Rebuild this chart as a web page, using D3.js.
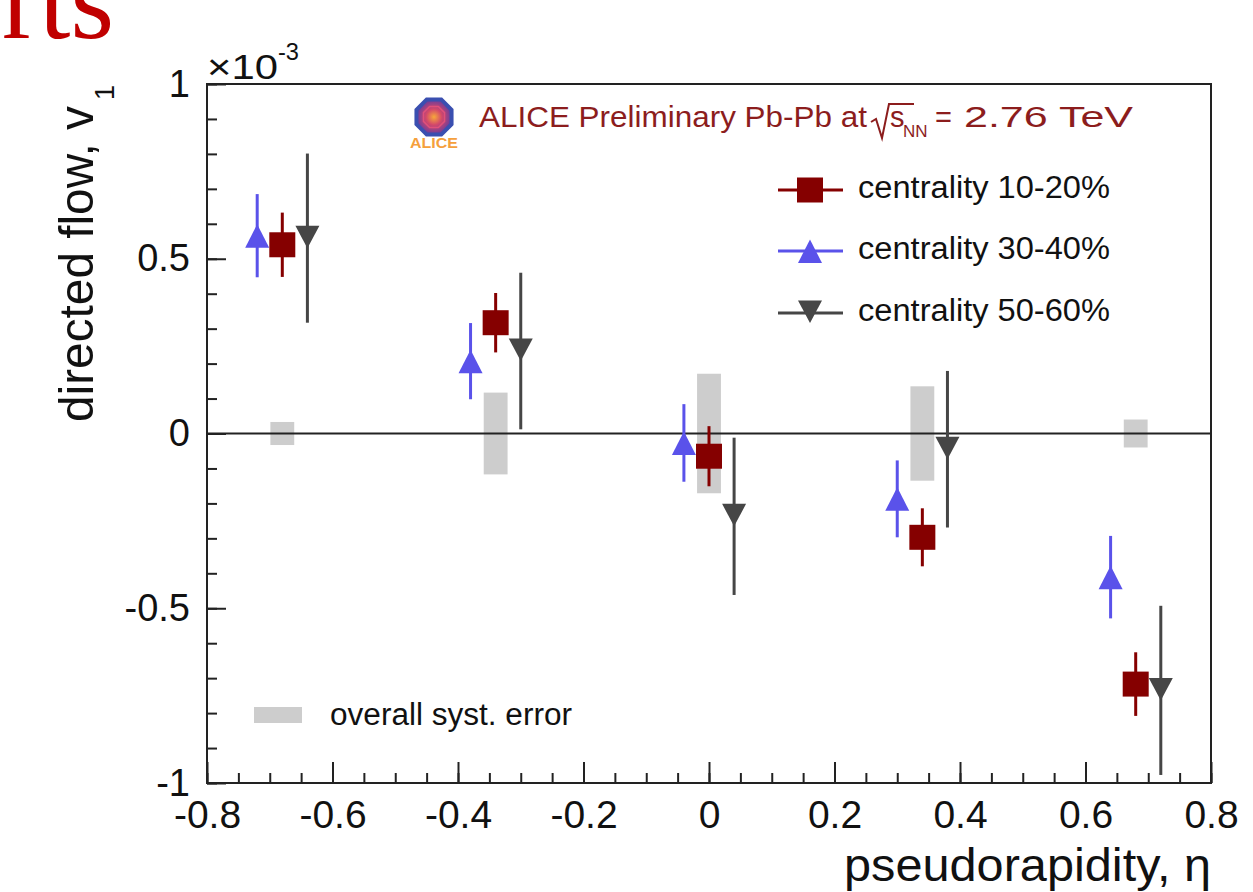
<!DOCTYPE html>
<html lang="en">
<head>
<meta charset="UTF-8">
<title>ALICE directed flow v1 vs pseudorapidity</title>
<script src="https://d3js.org/d3.v7.min.js"></script>
<style>
  body { margin: 0; background: #fff; }
  svg { display: block; font-family: "Liberation Sans", Arial, sans-serif; }
</style>
</head>
<body>
<svg id="chart" width="1253" height="892"></svg>
<script>
// values, v1 in units of 1e-3
const seriesNames = ["centrality 10-20%", "centrality 30-40%", "centrality 50-60%"];

const etaC1020 = [-0.68, -0.34, 0.00, 0.34, 0.68];
const v1C1020  = [0.540, 0.317, -0.065, -0.297, -0.717];
const errC1020 = [0.092, 0.085, 0.086, 0.083, 0.091];

const etaC3040 = [-0.72, -0.38, -0.04, 0.30, 0.64];
const v1C3040  = [0.566, 0.207, -0.027, -0.187, -0.411];
const errC3040 = [0.119, 0.109, 0.111, 0.110, 0.118];

const etaC5060 = [-0.64, -0.30, 0.04, 0.38, 0.72];
const v1C5060  = [0.559, 0.236, -0.237, -0.045, -0.735];
const errC5060 = [0.242, 0.224, 0.225, 0.224, 0.242];

// overall systematic error boxes (half height)
const etaSyst  = [-0.68, -0.34, 0.00, 0.34, 0.68];
const systErr  = [0.033, 0.117, 0.171, 0.135, 0.040];

const xTicks = [-0.8, -0.6, -0.4, -0.2, 0, 0.2, 0.4, 0.6, 0.8];
const yTicks = [-1, -0.5, 0, 0.5, 1];

const svg = d3.select("#chart");

const x = d3.scaleLinear().domain([-0.8, 0.8]).range([207, 1211]);
const y = d3.scaleLinear().domain([-1, 1]).range([783, 84]);

const squarePath = "M-13,-12.5H13V12.5H-13Z";
const triUp = "M0,-11.5L12,12L-12,12Z";
const triDown = "M0,10L12,-12.5L-12,-12.5Z";

const series = [
  {name: seriesNames[0], eta: etaC1020, v1: v1C1020, err: errC1020, color: "#850000", shape: squarePath},
  {name: seriesNames[1], eta: etaC3040, v1: v1C3040, err: errC3040, color: "#5a52ea", shape: triUp},
  {name: seriesNames[2], eta: etaC5060, v1: v1C5060, err: errC5060, color: "#464646", shape: triDown}
];

// slide title remnant
svg.append("text")
  .attr("x", 114).attr("y", 38)
  .attr("text-anchor", "end")
  .attr("font-family", "'Liberation Serif', 'DejaVu Serif', serif")
  .attr("font-size", 112)
  .attr("fill", "#c00000")
  .text("rts");

// systematic boxes
const systHalfWidth = 0.019;
svg.append("g").selectAll("rect")
  .data(etaSyst.map((e, i) => ({eta: e, s: systErr[i]})))
  .join("rect")
    .attr("x", d => x(d.eta - systHalfWidth))
    .attr("width", d => x(d.eta + systHalfWidth) - x(d.eta - systHalfWidth))
    .attr("y", d => y(d.s))
    .attr("height", d => y(-d.s) - y(d.s))
    .attr("fill", "#cdcdcd");

// zero line
svg.append("line")
  .attr("x1", x(-0.8)).attr("x2", x(0.8))
  .attr("y1", y(0)).attr("y2", y(0))
  .attr("stroke", "#222").attr("stroke-width", 2);

// axes
const xMinor = d3.range(-16, 17).map(i => i * 0.05);
const yMinor = d3.range(-10, 11).map(i => i / 10);

function styleAxis(g, size) {
  g.select(".domain").remove();
  g.selectAll("line").attr("stroke", "#222").attr("stroke-width", 2);
  g.selectAll("text").attr("font-size", size).attr("fill", "#111")
    .attr("font-family", "'Liberation Sans', Arial, sans-serif");
}

svg.append("g").attr("transform", `translate(0,${y(-1)})`)
  .call(d3.axisBottom(x).tickValues(xMinor).tickSize(-10).tickFormat(""))
  .call(g => styleAxis(g, 0));
svg.append("g").attr("transform", `translate(0,${y(-1)})`)
  .call(d3.axisBottom(x).tickValues(xTicks).tickSize(-21).tickPadding(17).tickFormat(d => String(d)))
  .call(g => styleAxis(g, 39));

svg.append("g").attr("transform", `translate(${x(-0.8)},0)`)
  .call(d3.axisLeft(y).tickValues(yMinor).tickSize(-10).tickFormat(""))
  .call(g => styleAxis(g, 0));
svg.append("g").attr("transform", `translate(${x(-0.8)},0)`)
  .call(d3.axisLeft(y).tickValues(yTicks).tickSize(-19).tickPadding(17).tickFormat(d => String(d)))
  .call(g => styleAxis(g, 38));

// frame
svg.append("rect")
  .attr("x", x(-0.8)).attr("y", y(1))
  .attr("width", x(0.8) - x(-0.8)).attr("height", y(-1) - y(1))
  .attr("fill", "none").attr("stroke", "#222").attr("stroke-width", 2);

// x10^-3 exponent
svg.append("text").attr("x", 207).attr("y", 79).attr("fill", "#111")
  .attr("font-size", 35).attr("textLength", 71).attr("lengthAdjust", "spacingAndGlyphs").text("×10");
svg.append("text").attr("x", 278).attr("y", 60).attr("font-size", 24).attr("fill", "#111")
  .attr("textLength", 21).attr("lengthAdjust", "spacingAndGlyphs").text("-3");

// error bars and markers
series.forEach(s => {
  const pts = s.eta.map((e, i) => ({eta: e, v: s.v1[i], err: s.err[i]}));
  const g = svg.append("g");
  g.selectAll("line")
    .data(pts)
    .join("line")
      .attr("x1", d => x(d.eta)).attr("x2", d => x(d.eta))
      .attr("y1", d => y(d.v + d.err)).attr("y2", d => y(d.v - d.err))
      .attr("stroke", s.color).attr("stroke-width", 3);
  g.selectAll("path")
    .data(pts)
    .join("path")
      .attr("transform", d => `translate(${x(d.eta)},${y(d.v)})`)
      .attr("d", s.shape)
      .attr("fill", s.color);
});

// legend
const legendRows = [190, 251, 313];
series.forEach((s, i) => {
  const g = svg.append("g").attr("transform", `translate(0,${legendRows[i]})`);
  g.append("line").attr("x1", 778).attr("x2", 843).attr("y1", 0).attr("y2", 0)
    .attr("stroke", s.color).attr("stroke-width", 3);
  g.append("path").attr("transform", "translate(810,0)").attr("d", s.shape).attr("fill", s.color);
  g.append("text").attr("x", 858).attr("y", 8)
    .attr("font-size", 31).attr("fill", "#111")
    .attr("textLength", 252).attr("lengthAdjust", "spacingAndGlyphs")
    .text(s.name);
});

// systematic legend
svg.append("rect").attr("x", 254).attr("y", 707).attr("width", 48).attr("height", 16).attr("fill", "#cdcdcd");
svg.append("text").attr("x", 330).attr("y", 725)
  .attr("font-size", 31).attr("fill", "#111")
  .attr("textLength", 242).attr("lengthAdjust", "spacingAndGlyphs")
  .text("overall syst. error");

// ALICE logo
const defs = svg.append("defs");
const grad = defs.append("radialGradient").attr("id", "logoGrad");
grad.append("stop").attr("offset", "0%").attr("stop-color", "#f7a83a");
grad.append("stop").attr("offset", "45%").attr("stop-color", "#d4486a");
grad.append("stop").attr("offset", "100%").attr("stop-color", "#6a3c9c");
const logo = svg.append("g").attr("transform", "translate(434,117)");
const oct = d3.range(8).map(i => {
  const a = (i + 0.5) * Math.PI / 4;
  return [19 * Math.cos(a), 19 * Math.sin(a)];
});
logo.append("path").attr("d", d3.line()(oct) + "Z")
  .attr("fill", "url(#logoGrad)").attr("stroke", "#3a4fb0").attr("stroke-width", 4);
logo.append("path").attr("d", d3.line()(oct.map(p => [p[0] * 0.6, p[1] * 0.6])) + "Z")
  .attr("fill", "none").attr("stroke", "#e0507a").attr("stroke-width", 1.5);
logo.append("text").attr("x", 0).attr("y", 31).attr("text-anchor", "middle")
  .attr("font-size", 14).attr("font-weight", "bold").attr("fill", "#f5a03c")
  .attr("textLength", 48).attr("lengthAdjust", "spacingAndGlyphs").text("ALICE");

// title
const titleColor = "#8c1d1d";
svg.append("text").attr("x", 479).attr("y", 127).attr("font-size", 29).attr("fill", titleColor)
  .attr("textLength", 388).attr("lengthAdjust", "spacingAndGlyphs")
  .text("ALICE Preliminary Pb-Pb at");
svg.append("path").attr("d", "M871,122L876,119L882,138L889,104L914,104")
  .attr("fill", "none").attr("stroke", titleColor).attr("stroke-width", 2);
svg.append("text").attr("x", 890).attr("y", 127).attr("font-size", 29).attr("fill", titleColor).text("s");
svg.append("text").attr("x", 903).attr("y", 137).attr("font-size", 17).attr("fill", titleColor).text("NN");
svg.append("text").attr("x", 935).attr("y", 127).attr("font-size", 29).attr("fill", titleColor).text("=");
svg.append("text").attr("x", 964).attr("y", 127).attr("font-size", 29).attr("fill", titleColor)
  .attr("textLength", 169).attr("lengthAdjust", "spacingAndGlyphs")
  .text("2.76 TeV");

// axis titles
svg.append("text").attr("x", 844).attr("y", 881)
  .attr("font-size", 46).attr("fill", "#111")
  .attr("textLength", 367).attr("lengthAdjust", "spacingAndGlyphs")
  .text("pseudorapidity, η");

const yTitle = svg.append("g").attr("transform", "translate(93,422) rotate(-90)");
yTitle.append("text").attr("x", 0).attr("y", 0)
  .attr("font-size", 49).attr("fill", "#111")
  .attr("textLength", 316).attr("lengthAdjust", "spacingAndGlyphs")
  .text("directed flow, v");
yTitle.append("text").attr("x", 322).attr("y", 21)
  .attr("font-size", 27).attr("fill", "#111").text("1");
</script>
</body>
</html>
